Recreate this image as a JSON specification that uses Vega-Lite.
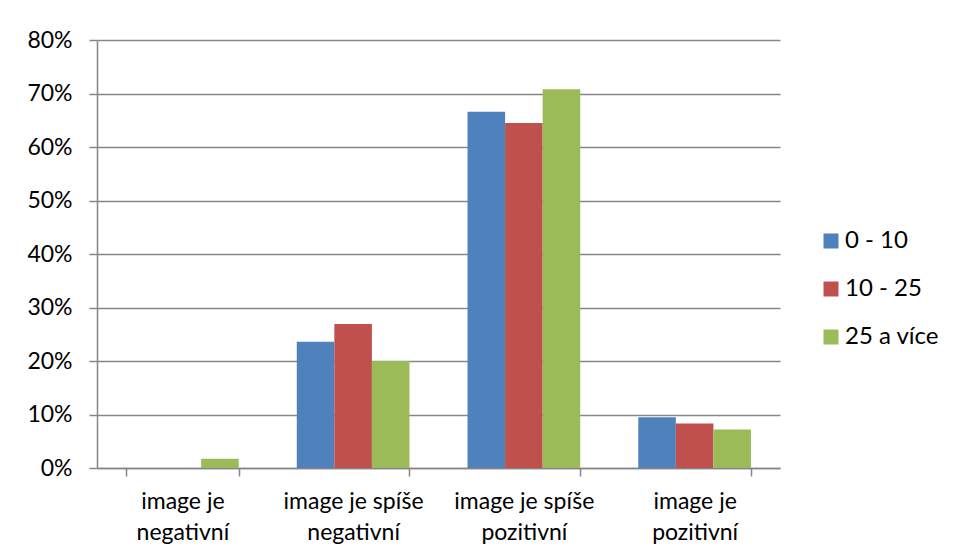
{
  "$schema": "https://vega.github.io/schema/vega-lite/v6.json",
  "autosize": {"type": "none"},
  "width": 683,
  "height": 428,
  "padding": {"left": 97, "top": 40, "right": 175, "bottom": 91},
  "background": "white",
  "config": {
    "font": "Lato",
    "view": {"stroke": null},
    "axis": {"labelFont": "Lato", "labelColor": "#000000", "labelFontSize": 23}
  },
  "data": {
    "values": [
      {"cat": "image je negativní", "grp": "0 - 10", "val": 0.0},
      {"cat": "image je negativní", "grp": "10 - 25", "val": 0.0},
      {"cat": "image je negativní", "grp": "25 a více", "val": 0.0175},
      {"cat": "image je spíše negativní", "grp": "0 - 10", "val": 0.236},
      {"cat": "image je spíše negativní", "grp": "10 - 25", "val": 0.269},
      {"cat": "image je spíše negativní", "grp": "25 a více", "val": 0.2},
      {"cat": "image je spíše pozitivní", "grp": "0 - 10", "val": 0.666},
      {"cat": "image je spíše pozitivní", "grp": "10 - 25", "val": 0.645},
      {"cat": "image je spíše pozitivní", "grp": "25 a více", "val": 0.708},
      {"cat": "image je pozitivní", "grp": "0 - 10", "val": 0.095},
      {"cat": "image je pozitivní", "grp": "10 - 25", "val": 0.083},
      {"cat": "image je pozitivní", "grp": "25 a více", "val": 0.072}
    ]
  },
  "mark": {"type": "bar"},
  "encoding": {
    "x": {
      "field": "cat",
      "type": "nominal",
      "sort": ["image je negativní", "image je spíše negativní", "image je spíše pozitivní", "image je pozitivní"],
      "scale": {"paddingInner": 0.34, "paddingOuter": 0.17},
      "axis": {
        "title": null,
        "labelAngle": 0,
        "labelExpr": "[slice(datum.label, 0, lastindexof(datum.label, ' ')), slice(datum.label, lastindexof(datum.label, ' ') + 1)]",
        "labelLineHeight": 31,
        "labelPadding": 14,
        "labelBaseline": "top",
        "tickBand": "extent",
        "tickSize": 8,
        "tickColor": "#868686",
        "tickWidth": 1.5,
        "domainColor": "#868686",
        "domainWidth": 1.5,
        "grid": false
      }
    },
    "xOffset": {
      "field": "grp",
      "type": "nominal",
      "sort": ["0 - 10", "10 - 25", "25 a více"],
      "scale": {"paddingInner": 0, "paddingOuter": 0}
    },
    "y": {
      "field": "val",
      "type": "quantitative",
      "scale": {"domain": [0, 0.8], "nice": false},
      "axis": {
        "title": null,
        "format": ".0%",
        "values": [0, 0.1, 0.2, 0.3, 0.4, 0.5, 0.6, 0.7, 0.8],
        "tickSize": 8,
        "tickColor": "#868686",
        "tickWidth": 1.5,
        "domainColor": "#868686",
        "domainWidth": 1.5,
        "gridColor": "#868686",
        "gridWidth": 1.5,
        "labelPadding": 17
      }
    },
    "color": {
      "field": "grp",
      "type": "nominal",
      "sort": ["0 - 10", "10 - 25", "25 a více"],
      "scale": {"domain": ["0 - 10", "10 - 25", "25 a více"], "range": ["#4F81BD", "#C0504D", "#9BBB59"]},
      "legend": {
        "title": null,
        "orient": "none",
        "legendX": 722,
        "legendY": 189,
        "padding": 0,
        "symbolType": "square",
        "symbolSize": 225,
        "symbolStrokeWidth": 0,
        "labelFont": "Lato",
        "labelFontSize": 24,
        "labelColor": "#000000",
        "labelOffset": 2,
        "rowPadding": 24
      }
    }
  }
}
